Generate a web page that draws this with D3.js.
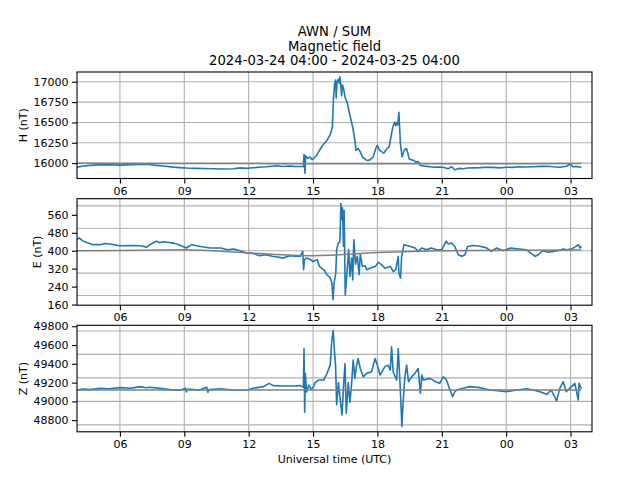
<!DOCTYPE html>
<html>
<head>
<meta charset="utf-8">
<script src="https://cdn.jsdelivr.net/npm/d3@7"></script>
<style>
  body { margin: 0; background: #fff; }
  text { font-family: "DejaVu Sans", sans-serif; }
</style>
</head>
<body>
<div id="chart"></div>
<script>
// hours after 2024-03-24 04:00 UTC
const hTimes = [0, 0.3, 0.6, 1.0, 1.5, 2.0, 2.5, 3.0, 3.26, 3.6, 4.0, 4.5, 4.8, 5.1, 5.5, 5.9, 6.3, 6.8, 7.3, 7.6, 7.9, 8.2, 8.5, 8.8, 9.1, 9.3, 9.6, 9.9, 10.1, 10.4, 10.55, 10.58, 10.62, 10.66, 10.75, 10.85, 10.95, 11.0, 11.15, 11.3, 11.45, 11.65, 11.8, 11.9, 11.95, 12.0, 12.05, 12.08, 12.12, 12.18, 12.22, 12.25, 12.28, 12.33, 12.37, 12.42, 12.5, 12.6, 12.7, 12.85, 12.95, 13.0, 13.1, 13.2, 13.3, 13.5, 13.65, 13.8, 13.95, 14.0, 14.1, 14.3, 14.45, 14.55, 14.65, 14.72, 14.8, 14.86, 14.9, 14.95, 15.0, 15.07, 15.15, 15.25, 15.35, 15.42, 15.48, 15.6, 15.7, 15.8, 15.9, 16.0, 16.15, 16.3, 16.45, 16.6, 16.8, 17.06, 17.3, 17.45, 17.6, 17.8, 18.0, 18.2, 18.45, 18.8, 19.1, 19.4, 19.7, 20.0, 20.3, 20.6, 20.9, 21.25, 21.6, 21.9, 22.2, 22.5, 22.8, 23.0, 23.1, 23.3, 23.45, 23.5];
const hValues = [15951, 15965, 15972, 15978, 15980, 15976, 15982, 15983, 15986, 15975, 15965, 15951, 15945, 15940, 15936, 15933, 15930, 15928, 15930, 15942, 15936, 15943, 15950, 15955, 15962, 15967, 15958, 15965, 15960, 15958, 15960, 16107, 15877, 16090, 16060, 16075, 16045, 16050, 16090, 16157, 16220, 16280, 16350, 16445, 16780, 16965, 17020, 16800, 17000, 17030, 16980, 17060, 17000, 16830, 16960, 16920, 16800, 16740, 16610, 16440, 16280, 16157, 16180, 16140, 16075, 16033, 16040, 16075, 16200, 16218, 16157, 16123, 16180, 16200, 16350, 16445, 16506, 16460, 16500, 16470, 16626, 16243, 16075, 16160, 16180, 16120, 16050, 16040, 16033, 16010, 16020, 15970, 15965, 15960, 15955, 15950, 15952, 15950, 15930, 15958, 15918, 15935, 15930, 15940, 15942, 15945, 15950, 15948, 15942, 15950, 15948, 15955, 15952, 15955, 15960, 15962, 15955, 15950, 15962, 15985, 15955, 15958, 15950, 15955];
const hBaseTimes = [0, 6, 12, 18, 23.5];
const hBaseValues = [15998, 15995, 15993, 15993, 15995];

const eTimes = [0, 0.1, 0.25, 0.45, 0.75, 1.07, 1.3, 1.54, 1.8, 2.0, 2.5, 2.94, 3.25, 3.4, 3.7, 3.87, 4.0, 4.2, 4.5, 4.8, 5.1, 5.35, 5.7, 6.2, 6.7, 7.0, 7.3, 7.6, 7.9, 8.2, 8.5, 8.8, 9.1, 9.35, 9.6, 9.9, 10.2, 10.4, 10.52, 10.56, 10.6, 10.7, 10.85, 11.0, 11.2, 11.3, 11.5, 11.65, 11.8, 11.88, 11.93, 11.98, 12.06, 12.1, 12.17, 12.25, 12.3, 12.34, 12.37, 12.42, 12.45, 12.5, 12.58, 12.66, 12.72, 12.8, 12.85, 12.9, 12.98, 13.06, 13.15, 13.2, 13.3, 13.43, 13.5, 13.65, 13.9, 14.04, 14.2, 14.35, 14.6, 14.74, 14.85, 14.97, 15.0, 15.08, 15.13, 15.24, 15.5, 15.75, 15.9, 16.06, 16.3, 16.5, 16.76, 17.0, 17.2, 17.3, 17.46, 17.6, 17.77, 17.93, 18.08, 18.2, 18.47, 18.78, 19.1, 19.3, 19.56, 19.86, 20.2, 20.6, 20.95, 21.2, 21.35, 21.5, 21.7, 21.96, 22.2, 22.4, 22.66, 22.8, 23.05, 23.2, 23.36, 23.45, 23.5];
const eValues = [449, 457, 445, 437, 427, 427, 432, 430, 425, 422, 423, 422, 416, 427, 442, 436, 440, 438, 434, 424, 412, 427, 420, 412, 412, 404, 408, 400, 390, 388, 378, 382, 375, 372, 367, 378, 376, 375, 397, 315, 360, 367, 362, 352, 360, 330, 315, 293, 278, 255, 182, 255, 300, 404, 434, 440, 610, 539, 591, 420, 580, 203, 300, 404, 285, 367, 270, 449, 340, 375, 293, 385, 330, 333, 315, 322, 330, 348, 337, 322, 330, 307, 315, 375, 300, 278, 375, 427, 420, 412, 397, 412, 404, 412, 404, 404, 442, 430, 434, 420, 382, 375, 382, 419, 423, 420, 412, 397, 412, 400, 412, 408, 404, 386, 375, 382, 400, 393, 397, 400, 408, 404, 408, 416, 427, 412, 420];
const eBaseTimes = [0, 3, 5, 8, 11, 14, 17, 20, 23.5];
const eBaseValues = [400, 402, 404, 390, 378, 392, 400, 402, 403];

const zTimes = [0, 0.3, 0.6, 1.07, 1.5, 2.0, 2.5, 2.94, 3.2, 3.4, 3.87, 4.33, 4.8, 5.05, 5.1, 5.15, 5.7, 6.05, 6.1, 6.15, 6.7, 7.3, 7.9, 8.2, 8.7, 8.95, 9.15, 9.6, 10.1, 10.4, 10.55, 10.58, 10.61, 10.64, 10.7, 10.8, 10.9, 11.0, 11.1, 11.25, 11.5, 11.65, 11.8, 11.87, 11.94, 12.0, 12.05, 12.1, 12.18, 12.25, 12.35, 12.42, 12.49, 12.55, 12.64, 12.72, 12.8, 12.87, 12.95, 13.02, 13.1, 13.2, 13.34, 13.5, 13.73, 13.89, 14.0, 14.12, 14.35, 14.5, 14.6, 14.66, 14.73, 14.9, 14.97, 15.05, 15.1, 15.14, 15.2, 15.28, 15.36, 15.45, 15.6, 15.75, 15.9, 16.0, 16.07, 16.14, 16.45, 16.7, 16.9, 17.07, 17.22, 17.38, 17.5, 17.6, 17.7, 18.0, 18.3, 18.78, 19.25, 19.7, 20.0, 20.5, 20.95, 21.26, 21.57, 21.9, 22.1, 22.35, 22.5, 22.66, 22.8, 23.05, 23.2, 23.36, 23.4, 23.5];
const zValues = [49121, 49130, 49125, 49139, 49135, 49146, 49140, 49157, 49145, 49150, 49138, 49125, 49118, 49140, 49100, 49130, 49121, 49150, 49095, 49125, 49135, 49118, 49118, 49140, 49157, 49192, 49168, 49164, 49164, 49168, 49150, 49563, 48885, 49300, 49100, 49174, 49130, 49145, 49200, 49227, 49227, 49298, 49386, 49633, 49757, 49527, 49386, 48962, 49200, 49050, 48856, 49150, 49404, 48874, 49200, 48990, 49200, 49439, 49245, 49370, 49457, 49350, 49262, 49298, 49315, 49457, 49386, 49280, 49370, 49386, 49333, 49580, 49315, 49227, 49563, 49209, 48950, 48732, 49000, 49262, 49386, 49209, 49262, 49298, 49350, 49086, 49280, 49227, 49245, 49209, 49192, 49262, 49227, 49121, 49050, 49100, 49121, 49139, 49157, 49146, 49121, 49110, 49103, 49121, 49135, 49121, 49103, 49075, 49121, 49005, 49139, 49209, 49103, 49157, 49192, 49014, 49192, 49135];
const zBaseTimes = [0, 23.5];
const zBaseValues = [49120, 49120];

const hTicks = [16000, 16250, 16500, 16750, 17000];
const eTicks = [160, 240, 320, 400, 480, 560];
const zTicks = [48800, 49000, 49200, 49400, 49600, 49800];
const hGrid = hTicks;
const eGrid = [200, 300, 400, 500, 600];
const zGrid = [48750, 49000, 49250, 49500, 49750];
const hLimits = [15811, 17120];
const eLimits = [157, 632];
const zLimits = [48676, 49810];

const titleLines = ['AWN / SUM', 'Magnetic field', '2024-03-24 04:00 - 2024-03-25 04:00'];
const xLabel = 'Universal time (UTC)';

const start = Date.UTC(2024, 2, 24, 4, 0);
const end = Date.UTC(2024, 2, 25, 4, 0);
const toDate = h => new Date(start + h * 3600e3);

const width = 640, height = 480;
const left = 77, right = 592;
const panelTops = [72, 198.7, 325.3];
const panelHeight = 106.5;
const fontSize = 11;

const panels = [
  { label: 'H (nT)', times: hTimes, values: hValues, baseT: hBaseTimes, baseV: hBaseValues, limits: hLimits, ticks: hTicks, grid: hGrid },
  { label: 'E (nT)', times: eTimes, values: eValues, baseT: eBaseTimes, baseV: eBaseValues, limits: eLimits, ticks: eTicks, grid: eGrid },
  { label: 'Z (nT)', times: zTimes, values: zValues, baseT: zBaseTimes, baseV: zBaseValues, limits: zLimits, ticks: zTicks, grid: zGrid }
];

const svg = d3.select('#chart').append('svg')
  .attr('width', width)
  .attr('height', height);

svg.append('rect').attr('width', width).attr('height', height).attr('fill', '#fff');

const x = d3.scaleUtc().domain([new Date(start), new Date(end)]).range([left, right]);
const xTicks = d3.utcHour.every(3).range(new Date(start + 1), new Date(end));

// title
svg.append('g').selectAll('text')
  .data(titleLines)
  .join('text')
  .attr('x', (left + right) / 2)
  .attr('y', (d, i) => 36 + i * 14.5)
  .attr('text-anchor', 'middle')
  .attr('font-size', 13.2)
  .attr('fill', '#000')
  .text(d => d);

panels.forEach((p, i) => {
  const top = panelTops[i];
  const bottom = top + panelHeight;
  const y = d3.scaleLinear().domain(p.limits).range([bottom, top]);
  const g = svg.append('g');

  const clipId = `clip-${i}`;
  g.append('clipPath').attr('id', clipId)
    .append('rect')
    .attr('x', left).attr('y', top)
    .attr('width', right - left).attr('height', panelHeight);

  // grid
  g.append('g').selectAll('line')
    .data(xTicks)
    .join('line')
    .attr('x1', d => x(d)).attr('x2', d => x(d))
    .attr('y1', top).attr('y2', bottom)
    .attr('stroke', '#b0b0b0').attr('stroke-width', 1.1);
  g.append('g').selectAll('line')
    .data(p.grid.filter(v => v >= p.limits[0] && v <= p.limits[1]))
    .join('line')
    .attr('x1', left).attr('x2', right)
    .attr('y1', d => y(d)).attr('y2', d => y(d))
    .attr('stroke', '#b0b0b0').attr('stroke-width', 1.1);

  const line = d3.line()
    .x(d => x(toDate(d[0])))
    .y(d => y(d[1]));

  g.append('path')
    .datum(d3.zip(p.times, p.values))
    .attr('clip-path', `url(#${clipId})`)
    .attr('d', line)
    .attr('fill', 'none')
    .attr('stroke', '#1f77b4')
    .attr('stroke-width', 1.6)
    .attr('stroke-linejoin', 'round');

  g.append('path')
    .datum(d3.zip(p.baseT, p.baseV))
    .attr('clip-path', `url(#${clipId})`)
    .attr('d', line.curve(d3.curveMonotoneX))
    .attr('fill', 'none')
    .attr('stroke', '#808080')
    .attr('stroke-width', 1.5);

  // frame
  g.append('rect')
    .attr('x', left).attr('y', top)
    .attr('width', right - left).attr('height', panelHeight)
    .attr('fill', 'none').attr('stroke', '#000').attr('stroke-width', 1.1);

  const yAxis = g.append('g')
    .attr('transform', `translate(${left},0)`)
    .call(d3.axisLeft(y).tickValues(p.ticks).tickFormat(d3.format('d')).tickSize(5).tickPadding(3.5));
  yAxis.select('.domain').remove();
  yAxis.selectAll('line').attr('stroke-width', 1.1);
  yAxis.selectAll('text').attr('font-size', fontSize).attr('font-family', '"DejaVu Sans", sans-serif').attr('fill', '#000');

  const xAxis = g.append('g')
    .attr('transform', `translate(0,${bottom})`)
    .call(d3.axisBottom(x).tickValues(xTicks).tickFormat(d3.utcFormat('%H')).tickSize(5).tickPadding(3.5));
  xAxis.select('.domain').remove();
  xAxis.selectAll('line').attr('stroke-width', 1.1);
  xAxis.selectAll('text').attr('font-size', fontSize).attr('font-family', '"DejaVu Sans", sans-serif').attr('fill', '#000');

  // bbox is in the axis group's own coordinates
  const bb = yAxis.node().getBBox();
  g.append('text')
    .attr('transform', `translate(${left + bb.x - 7},${(top + bottom) / 2}) rotate(-90)`)
    .attr('text-anchor', 'middle')
    .attr('font-size', fontSize)
    .attr('fill', '#000')
    .text(p.label);
});

svg.append('text')
  .attr('x', (left + right) / 2)
  .attr('y', 463)
  .attr('text-anchor', 'middle')
  .attr('font-size', fontSize)
  .attr('fill', '#000')
  .text(xLabel);
</script>
</body>
</html>
